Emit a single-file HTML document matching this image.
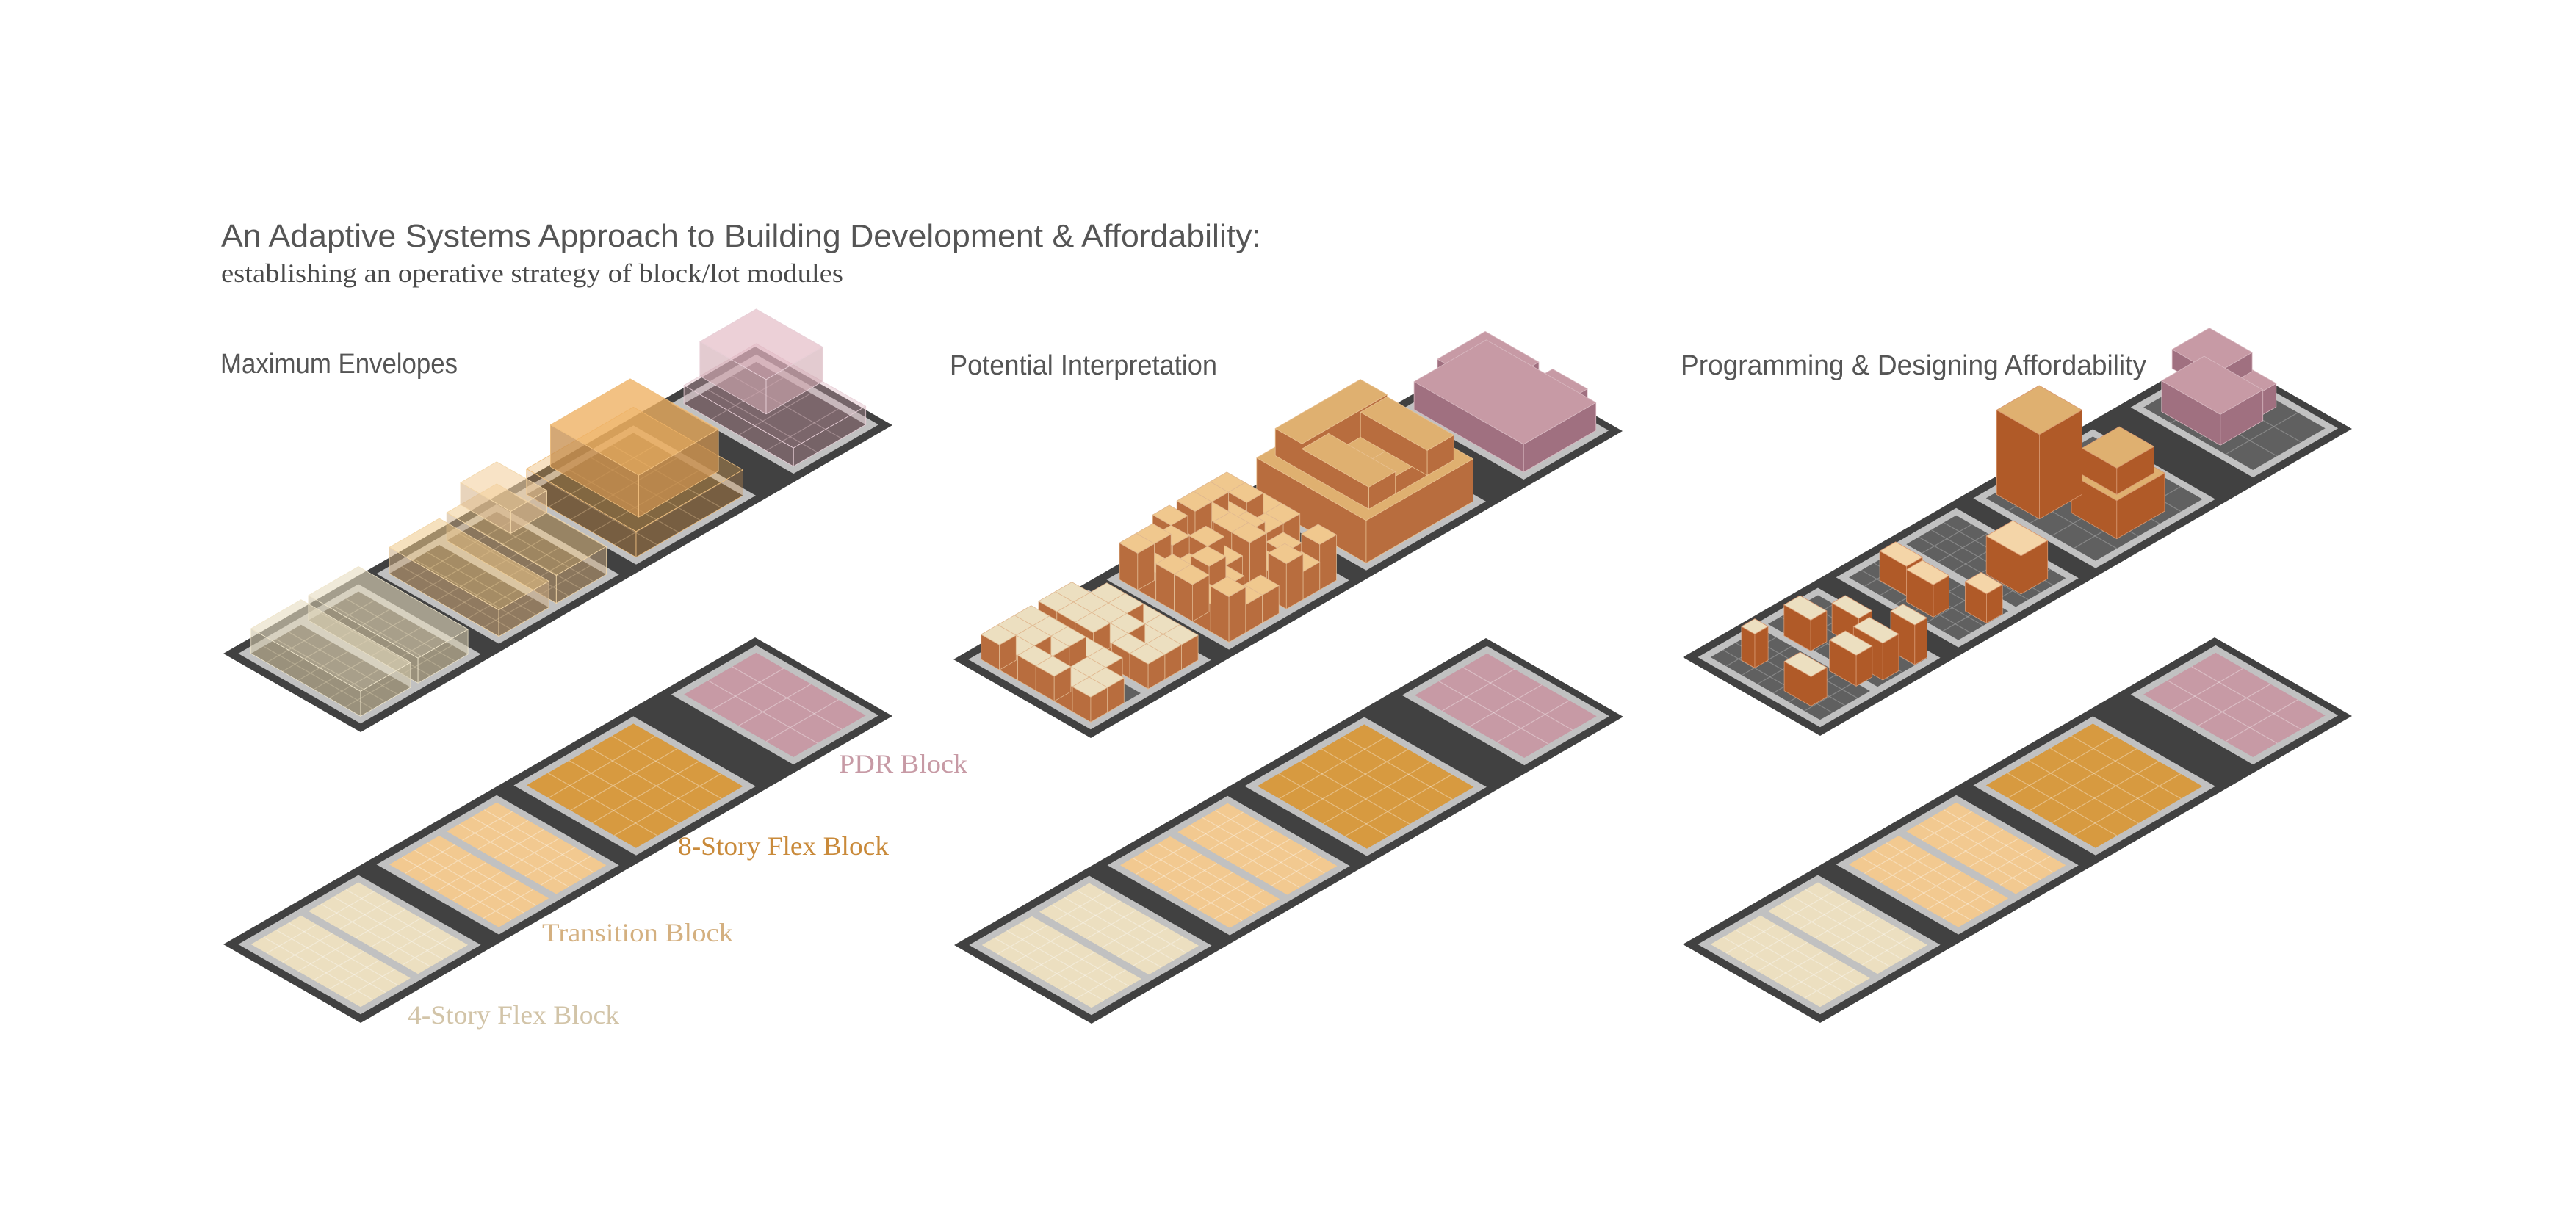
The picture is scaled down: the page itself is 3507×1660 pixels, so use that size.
<!DOCTYPE html>
<html><head><meta charset="utf-8">
<style>
html,body{margin:0;padding:0;background:#fff;}
svg{display:block;}
.t{font-family:"Liberation Sans",sans-serif;fill:#555;}
.s{font-family:"Liberation Serif",serif;}
</style></head>
<body>
<svg id="s" width="3507" height="1660" viewBox="0 0 3507 1660" xmlns="http://www.w3.org/2000/svg">
<rect width="3507" height="1660" fill="#fff"/>
<g id="draw"></g>
<text class="t" x="301" y="336" font-size="44" textLength="1416" lengthAdjust="spacingAndGlyphs">An Adaptive Systems Approach to Building Development &amp; Affordability:</text>
<text class="s" x="301" y="384" font-size="36" fill="#4a4a4a" textLength="847" lengthAdjust="spacingAndGlyphs">establishing an operative strategy of block/lot modules</text>
<text class="t" x="300" y="508" font-size="38" textLength="323" lengthAdjust="spacingAndGlyphs">Maximum Envelopes</text>
<text class="t" x="1293" y="510" font-size="38" textLength="364" lengthAdjust="spacingAndGlyphs">Potential Interpretation</text>
<text class="t" x="2288" y="510" font-size="38" textLength="634" lengthAdjust="spacingAndGlyphs">Programming &amp; Designing Affordability</text>
<text class="s" x="1142" y="1052" font-size="36" fill="#c79aa5" textLength="175" lengthAdjust="spacingAndGlyphs">PDR Block</text>
<text class="s" x="923" y="1164" font-size="36" fill="#c98a3a" textLength="287" lengthAdjust="spacingAndGlyphs">8-Story Flex Block</text>
<text class="s" x="738" y="1282" font-size="36" fill="#d4b080" textLength="260" lengthAdjust="spacingAndGlyphs">Transition Block</text>
<text class="s" x="555" y="1394" font-size="36" fill="#d2c4a8" textLength="288" lengthAdjust="spacingAndGlyphs">4-Story Flex Block</text>
</svg>
<script>
(function(){
var NS="http://www.w3.org/2000/svg";
var G=document.getElementById('draw');
function P(o,x,y,h){return [o[0]+x*0.724+y*0.7276, o[1]-x*0.418+y*0.4163-(h||0)];}
function poly(pts,fill,op,stroke,sw){
  var e=document.createElementNS(NS,'polygon');
  e.setAttribute('points',pts.map(function(p){return p[0].toFixed(1)+','+p[1].toFixed(1);}).join(' '));
  e.setAttribute('fill',fill);
  if(op!==undefined&&op!==null)e.setAttribute('fill-opacity',op);
  if(stroke){e.setAttribute('stroke',stroke);e.setAttribute('stroke-width',sw||1);e.setAttribute('stroke-linejoin','round');}
  G.appendChild(e);
}
function line(a,b,c,w,op){
  var e=document.createElementNS(NS,'line');
  e.setAttribute('x1',a[0]);e.setAttribute('y1',a[1]);e.setAttribute('x2',b[0]);e.setAttribute('y2',b[1]);
  e.setAttribute('stroke',c);e.setAttribute('stroke-width',w||1);
  if(op)e.setAttribute('stroke-opacity',op);
  G.appendChild(e);
}
function rect(o,x0,x1,y0,y1,fill,op,h){
  poly([P(o,x0,y0,h),P(o,x1,y0,h),P(o,x1,y1,h),P(o,x0,y1,h)],fill,op);
}
function grid(o,x0,x1,y0,y1,nx,ny,c,op){
  for(var i=1;i<nx;i++){var x=x0+(x1-x0)*i/nx;line(P(o,x,y0),P(o,x,y1),c,1.2,op);}
  for(var j=1;j<ny;j++){var y=y0+(y1-y0)*j/ny;line(P(o,x0,y),P(o,x1,y),c,1.2,op);}
}
function box(o,x0,x1,y0,y1,z0,z1,top,side,op,stroke){
  var st=stroke||'#e8d0b8';
  poly([P(o,x0,y0,z0),P(o,x0,y1,z0),P(o,x0,y1,z1),P(o,x0,y0,z1)],side,op,st,0.8);
  poly([P(o,x0,y1,z0),P(o,x1,y1,z0),P(o,x1,y1,z1),P(o,x0,y1,z1)],side,op,st,0.8);
  poly([P(o,x0,y0,z1),P(o,x1,y0,z1),P(o,x1,y1,z1),P(o,x0,y1,z1)],top,op,st,0.8);
}
function sortDraw(list){
  list.sort(function(a,b){return ((a[4]+a[5])/2-(a[2]+a[3])/2)-((b[4]+b[5])/2-(b[2]+b[3])/2);});
  list.forEach(function(a){box.apply(null,a);});
}
var seed=11;function rnd(){seed=(seed*16807)%2147483647;return seed/2147483647;}

var B=[[14,240],[274,500],[532,757],[828,988]];
var Y0=14,Y1=243;
var lots1=[[26,120],[134,228]],lots2=[[286,380],[394,488]];
var cream='#ecdfc0',trans='#f2c990',orange='#d79a40',pink='#c79aa5';

function strip(o){poly([P(o,0,0),P(o,1000,0),P(o,1000,257),P(o,0,257)],'#414141');
  B.forEach(function(b){rect(o,b[0],b[1],Y0,Y1,'#c1c1c1');});}

function planColored(o){
  strip(o);
  lots1.forEach(function(l){rect(o,l[0],l[1],26,231,cream);grid(o,l[0],l[1],26,231,4,7,'#fff',0.35);});
  lots2.forEach(function(l){rect(o,l[0],l[1],26,231,trans);grid(o,l[0],l[1],26,231,4,7,'#fff',0.35);});
  rect(o,544,745,26,231,orange);grid(o,544,745,26,231,5,5,'#fff',0.35);
  rect(o,840,976,26,231,pink);grid(o,840,976,26,231,3,4,'#fff',0.35);
}
var bot=[[304,1286],[1299,1287],[2291,1286]];
var topO=[[304,890],[1298,898],[2291,895]];
bot.forEach(planColored);

// Panel 1 top
(function(o){
  strip(o);
  var dk='#4c443a';
  lots1.concat(lots2).forEach(function(l){rect(o,l[0],l[1],26,231,dk);grid(o,l[0],l[1],26,231,4,7,'#d8c8a8',0.45);});
  rect(o,544,745,26,231,dk);grid(o,544,745,26,231,5,5,'#d8c8a8',0.45);
  rect(o,840,976,26,231,'#4a4244');grid(o,840,976,26,231,3,4,'#d8c8c8',0.45);
  var L=[];
  L.push([o,840,976,26,231,0,25,'#d8a8b4','#c8a0a8',0.35,'#e8d0d8']);
  L.push([o,870,976,26,150,25,72,'#e0b0bc','#d0a8b0',0.6,'#e8d0d8']);
  L.push([o,544,745,26,231,0,35,'#e8a850','#c89050',0.35,'#f0c080']);
  L.push([o,570,720,45,210,35,92,'#eeb060','#c89050',0.78,'#f0c080']);
  L.push([o,394,488,26,231,0,38,'#f0c888','#c8a880',0.5,'#f2d6a8']);
  L.push([o,420,488,26,120,38,68,'#f4d0a0','#d8b890',0.6,'#f2d6a8']);
  L.push([o,286,380,26,231,0,36,'#efc888','#c8a880',0.55,'#f2d6a8']);
  L.push([o,134,228,26,231,0,34,'#e6dcc0','#cfc4a8',0.6,'#f0e6cc']);
  L.push([o,26,120,26,231,0,34,'#e6dcc0','#cfc4a8',0.6,'#f0e6cc']);
  L.forEach(function(a){box.apply(null,a);});
})(topO[0]);

// Panel 2 top
(function(o){
  strip(o);
  lots1.concat(lots2).forEach(function(l){rect(o,l[0],l[1],26,231,'#606060');});
  rect(o,544,745,26,231,'#606060');
  var side='#b86d3e';
  function cells(lots,top,hs,p){
    var L=[];
    lots.forEach(function(l){
      var nx=3,ny=6,w=(l[1]-l[0])/nx,h=(231-26)/ny;
      for(var i=0;i<nx;i++)for(var j=0;j<ny;j++){
        if(rnd()<p){var z=hs[Math.floor(rnd()*hs.length)];
          L.push([o,l[0]+i*w,l[0]+(i+1)*w,26+j*h,26+(j+1)*h,0,z,top,side,null,'#e0b890']);}
      }});
    return L;
  }
  sortDraw([[o,840,976,26,231,0,38,'#c79aa5','#a07080',null,'#d8b8c0'],
          [o,870,960,40,140,38,62,'#c79aa5','#a07080',null,'#d8b8c0'],
          [o,900,976,150,215,38,50,'#c79aa5','#a07080',null,'#d8b8c0']]);
  box(o,544,745,26,231,0,58,'#dfb070',side,null,'#e8c090');
  sortDraw([[o,565,725,40,90,58,95,'#dfb070',side,null,'#e8c090'],
            [o,675,725,90,215,58,92,'#dfb070',side,null,'#e8c090'],
            [o,565,615,90,215,58,88,'#dfb070',side,null,'#e8c090'],
            [o,615,675,165,215,58,82,'#dfb070',side,null,'#e8c090']]);
  sortDraw(cells(lots2,'#f0c88e',[38,50,62],0.88));
  sortDraw(cells(lots1,'#ecdfc0',[34],0.88));
})(topO[1]);

// Panel 3 top
(function(o){
  strip(o);
  lots1.concat(lots2).forEach(function(l){rect(o,l[0],l[1],26,231,'#606060');grid(o,l[0],l[1],26,231,4,7,'#a0a0a0',0.6);});
  rect(o,544,745,26,231,'#606060');grid(o,544,745,26,231,5,5,'#a0a0a0',0.6);
  rect(o,840,976,26,231,'#606060');grid(o,840,976,26,231,3,4,'#a0a0a0',0.6);
  var s='#b05a28',st='#d89870';
  sortDraw([[o,850,930,50,160,0,42,'#c79aa5','#a07080',null,'#d8b8c0'],
            [o,880,950,40,120,42,68,'#c79aa5','#a07080',null,'#d8b8c0'],
            [o,930,965,60,150,0,32,'#c79aa5','#a07080',null,'#d8b8c0']]);
  sortDraw([[o,560,640,30,110,0,115,'#dfb070',s,null,st],
            [o,600,690,130,215,0,52,'#dfb070',s,null,st]]);
  box(o,610,680,140,205,52,88,'#dfb070',s,null,st);
  sortDraw([[o,420,470,150,215,0,52,'#f4d5a8',s,null,st],
            [o,455,480,130,150,0,32,'#f4d5a8',s,null,st],
            [o,310,340,60,110,0,40,'#f4d5a8',s,null,st],
            [o,300,330,120,170,0,44,'#f4d5a8',s,null,st],
            [o,340,370,190,230,0,40,'#f4d5a8',s,null,st]]);
  sortDraw([[o,50,75,60,85,0,46,'#ecdfc0',s,null,st],
            [o,40,70,150,200,0,40,'#ecdfc0',s,null,st],
            [o,130,160,60,110,0,42,'#ecdfc0',s,null,st],
            [o,115,145,160,210,0,42,'#ecdfc0',s,null,st],
            [o,150,180,170,225,0,50,'#ecdfc0',s,null,st],
            [o,180,205,100,150,0,40,'#ecdfc0',s,null,st],
            [o,205,228,185,230,0,54,'#ecdfc0',s,null,st]]);
})(topO[2]);
})();
</script>
</body></html>
